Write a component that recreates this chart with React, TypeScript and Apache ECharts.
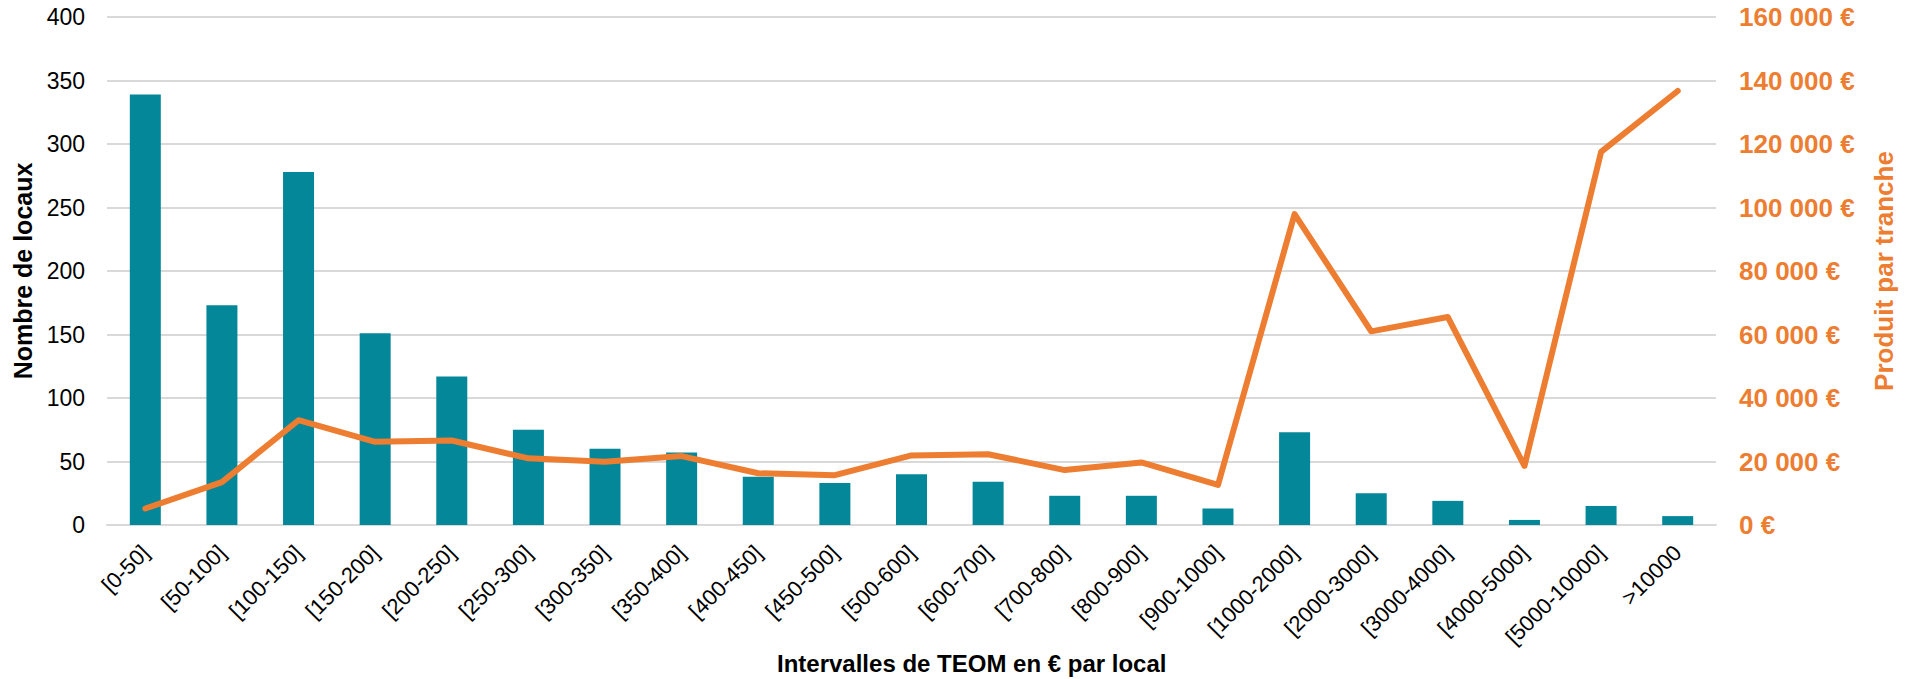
import React, { useEffect, useRef } from "react";
import * as echarts from "echarts";

const categories = [
  "[0-50]", "[50-100]", "[100-150]", "[150-200]", "[200-250]", "[250-300]",
  "[300-350]", "[350-400]", "[400-450]", "[450-500]", "[500-600]", "[600-700]",
  "[700-800]", "[800-900]", "[900-1000]", "[1000-2000]", "[2000-3000]",
  "[3000-4000]", "[4000-5000]", "[5000-10000]", ">10000",
];

const nombreLocaux = [339, 173, 278, 151, 117, 75, 60, 57, 38, 33, 40, 34, 23, 23, 13, 73, 25, 19, 4, 15, 7];

const produitParTranche = [
  5200, 13500, 33000, 26200, 26600, 21000, 19900, 21700, 16300, 15700, 21900,
  22300, 17300, 19700, 12600, 97900, 61000, 65500, 18600, 117500, 136700,
];

const leftTicks = { min: 0, max: 400, interval: 50 };
const rightTicks = { min: 0, max: 160000, interval: 20000 };

const xTitle = "Intervalles de TEOM en € par local";
const leftTitle = "Nombre de locaux";
const rightTitle = "Produit par tranche";

const FONT = "'Liberation Sans', Arial, sans-serif";
const ORANGE = "#ED7D31";
const TEAL = "#038799";

function fmtEuro(v: number): string {
  const s = String(Math.round(v)).replace(/\B(?=(\d{3})+(?!\d))/g, " ");
  return s + " €";
}

export default function App() {
  const ref = useRef<HTMLDivElement>(null);
  useEffect(() => {
    if (!ref.current) return;
    const chart = echarts.init(ref.current, undefined, { renderer: "svg" });
    chart.setOption({
      animation: false,
      backgroundColor: "#ffffff",
      grid: { left: 107, right: 199, top: 17, bottom: 154, containLabel: false },
      graphic: [
        {
          type: "text",
          left: 777,
          top: 651,
          style: {
            text: xTitle,
            fill: "#000",
            font: `bold 24px ${FONT}`,
          },
        },
      ],
      xAxis: {
        type: "category",
        data: categories,
        axisTick: { show: false },
        axisLine: { lineStyle: { color: "#D9D9D9", width: 2 } },
        axisLabel: {
          rotate: 45,
          interval: 0,
          color: "#000",
          fontFamily: FONT,
          fontSize: 22,
          margin: 24,
        },
      },
      yAxis: [
        {
          type: "value",
          min: leftTicks.min,
          max: leftTicks.max,
          interval: leftTicks.interval,
          position: "left",
          axisLine: { show: false },
          axisTick: { show: false },
          splitLine: { lineStyle: { color: "#D9D9D9", width: 2 } },
          axisLabel: { color: "#000", fontFamily: FONT, fontSize: 23, margin: 22 },
          name: leftTitle,
          nameLocation: "middle",
          nameGap: 70,
          nameRotate: 90,
          nameTextStyle: { color: "#000", fontFamily: FONT, fontSize: 25, fontWeight: "bold" },
        },
        {
          type: "value",
          min: rightTicks.min,
          max: rightTicks.max,
          interval: rightTicks.interval,
          position: "right",
          axisLine: { show: false },
          axisTick: { show: false },
          splitLine: { show: false },
          axisLabel: {
            color: ORANGE,
            fontFamily: FONT,
            fontSize: 26,
            fontWeight: "bold",
            margin: 23,
            formatter: (v: number) => fmtEuro(v),
          },
          name: rightTitle,
          nameLocation: "middle",
          nameGap: 155,
          nameRotate: 90,
          nameTextStyle: { color: ORANGE, fontFamily: FONT, fontSize: 26, fontWeight: "bold" },
        },
      ],
      series: [
        {
          name: leftTitle,
          type: "bar",
          yAxisIndex: 0,
          data: nombreLocaux,
          barWidth: 31,
          itemStyle: { color: TEAL },
        },
        {
          name: rightTitle,
          type: "line",
          yAxisIndex: 1,
          data: produitParTranche,
          symbol: "none",
          lineStyle: { color: ORANGE, width: 6, cap: "round", join: "round" },
          itemStyle: { color: ORANGE },
        },
      ],
    });
    return () => chart.dispose();
  }, []);
  return <div ref={ref} style={{ width: 1915, height: 679, position: "absolute", left: 0, top: 0 }} />;
}
